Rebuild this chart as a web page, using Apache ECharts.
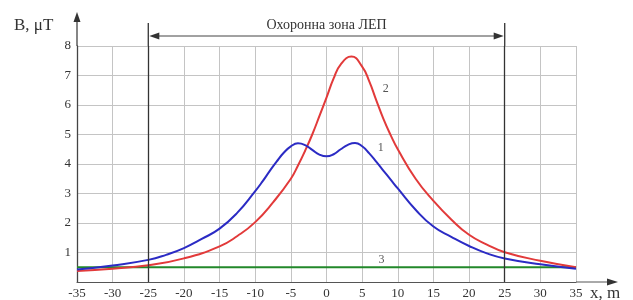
<!DOCTYPE html>
<html>
<head>
<meta charset="utf-8">
<script src="https://cdn.jsdelivr.net/npm/echarts@6/dist/echarts.min.js"></script>
<style>
  html, body { margin: 0; padding: 0; background: #fff; }
  #chart { width: 633px; height: 300px; }
</style>
</head>
<body>
<div id="chart"></div>
<script>
// curve 1 (blue)
const curve1X = [-35, -30, -25, -22.5, -20, -17.5, -15, -12.5, -10, -9, -8, -7, -6, -5, -4, -3, -2, -1, 0, 1, 2, 3, 4, 5, 6, 7, 8, 9, 10, 12.5, 15, 17.5, 20, 22.5, 25, 30, 35];
const curve1Y = [0.42, 0.56, 0.75, 0.92, 1.15, 1.46, 1.81, 2.35, 3.08, 3.4, 3.75, 4.08, 4.38, 4.6, 4.7, 4.64, 4.48, 4.32, 4.26, 4.33, 4.5, 4.65, 4.71, 4.6, 4.36, 4.07, 3.77, 3.47, 3.17, 2.45, 1.88, 1.53, 1.22, 0.97, 0.8, 0.6, 0.45];
// curve 2 (red)
const curve2X = [-35, -30, -25, -20, -15, -12.5, -10, -7.5, -5, -4, -3, -2, -1, 0, 1, 2, 3.5, 5, 6, 7, 8, 9, 10, 12.5, 15, 17.5, 20, 22.5, 25, 30, 35];
const curve2Y = [0.37, 0.45, 0.57, 0.8, 1.21, 1.56, 2.03, 2.7, 3.5, 3.95, 4.45, 5.0, 5.62, 6.25, 6.9, 7.38, 7.64, 7.3, 6.8, 6.15, 5.52, 4.98, 4.5, 3.5, 2.75, 2.12, 1.6, 1.27, 1.01, 0.72, 0.5];
// curve 3 (green)
const curve3X = [-35, 35];
const curve3Y = [0.5, 0.5];

const zoneEdges = [-25, 25];
const zoneTitle = 'Охоронна зона ЛЕП';
const curveNames = ['1', '2', '3'];
const curveLabelPos = [[7.6, 4.55], [8.3, 6.55], [7.7, 0.75]];

const serif = 'Liberation Serif';
const chart = echarts.init(document.getElementById('chart'));

function pairs(xs, ys) {
  return xs.map((x, i) => [x, ys[i]]);
}

chart.setOption({
  animation: false,
  backgroundColor: '#fff',
  grid: { left: 77, right: 57, top: 46, bottom: 16 },
  xAxis: {
    type: 'value', min: -35, max: 35, interval: 5,
    axisLine: { show: true, onZero: false, lineStyle: { color: '#555', width: 1 } },
    axisTick: { show: false },
    axisLabel: { color: '#333', fontFamily: serif, fontSize: 13, margin: 5 },
    splitLine: { show: true, lineStyle: { color: '#c4c4c4', width: 1 } }
  },
  yAxis: {
    type: 'value', min: 0, max: 8, interval: 1,
    axisLine: { show: true, onZero: false, lineStyle: { color: '#444', width: 1.3 } },
    axisTick: { show: false },
    axisLabel: {
      color: '#333', fontFamily: serif, fontSize: 13, margin: 6,
      formatter: v => (v === 0 ? '' : String(v))
    },
    splitLine: { show: true, lineStyle: { color: '#c4c4c4', width: 1 } }
  },
  series: [{
    type: 'line', data: pairs(curve1X, curve1Y), smooth: 0.5, symbol: 'none',
    lineStyle: { color: '#2b2bc4', width: 2 }, z: 4
  }, {
    type: 'line', data: pairs(curve2X, curve2Y), smooth: 0.5, symbol: 'none',
    lineStyle: { color: '#e23a3a', width: 2 }, z: 3
  }, {
    type: 'line', data: pairs(curve3X, curve3Y), symbol: 'none',
    lineStyle: { color: '#22882a', width: 2 }, z: 2,
    markLine: {
      silent: true, symbol: 'none', label: { show: false },
      lineStyle: { color: '#333', width: 1.3, type: 'solid' },
      data: zoneEdges.map(x => ({ xAxis: x }))
    }
  }]
});

// decorations placed from axis coordinates
const p = (x, y) => chart.convertToPixel({ gridIndex: 0 }, [x, y]);
const dark = '#333';
const g = [];
const topLeft = p(-35, 8), rightEnd = p(35, 0);

// y axis arrow
g.push({ type: 'line', shape: { x1: topLeft[0], y1: topLeft[1], x2: topLeft[0], y2: 16 }, style: { stroke: '#444', lineWidth: 1.3 } });
g.push({ type: 'polygon', shape: { points: [[topLeft[0], 12], [topLeft[0] - 3.5, 22], [topLeft[0] + 3.5, 22]] }, style: { fill: dark } });
// x axis arrow
g.push({ type: 'line', shape: { x1: rightEnd[0], y1: rightEnd[1], x2: 612, y2: rightEnd[1] }, style: { stroke: '#555', lineWidth: 1 } });
g.push({ type: 'polygon', shape: { points: [[618, rightEnd[1]], [607, rightEnd[1] - 3.5], [607, rightEnd[1] + 3.5]] }, style: { fill: dark } });

// zone edges above the plot
const zl = p(zoneEdges[0], 8), zr = p(zoneEdges[1], 8);
[zl, zr].forEach(pt => {
  g.push({ type: 'line', shape: { x1: pt[0], y1: pt[1], x2: pt[0], y2: 23 }, style: { stroke: dark, lineWidth: 1.3 } });
});
const ay = 36;
g.push({ type: 'line', shape: { x1: zl[0] + 8, y1: ay, x2: zr[0] - 8, y2: ay }, style: { stroke: '#444', lineWidth: 1 } });
g.push({ type: 'polygon', shape: { points: [[zl[0] + 1, ay], [zl[0] + 11, ay - 3.5], [zl[0] + 11, ay + 3.5]] }, style: { fill: dark } });
g.push({ type: 'polygon', shape: { points: [[zr[0] - 1, ay], [zr[0] - 11, ay - 3.5], [zr[0] - 11, ay + 3.5]] }, style: { fill: dark } });
g.push({
  type: 'text', x: (zl[0] + zr[0]) / 2, y: 25,
  style: { text: zoneTitle, fill: '#333', font: '14px "' + serif + '"', textAlign: 'center', textVerticalAlign: 'middle' }
});

// axis names
g.push({ type: 'text', x: 14, y: 26, style: { text: 'B, μT', fill: '#333', font: '17px "' + serif + '"', textAlign: 'left', textVerticalAlign: 'middle' } });
g.push({ type: 'text', x: 590, y: 294, style: { text: 'x, m', fill: '#333', font: '17px "' + serif + '"', textAlign: 'left', textVerticalAlign: 'middle' } });

// curve numbers
curveNames.forEach((n, i) => {
  const pt = p(curveLabelPos[i][0], curveLabelPos[i][1]);
  g.push({ type: 'text', x: pt[0], y: pt[1], style: { text: n, fill: '#555', font: '12px "' + serif + '"', textAlign: 'center', textVerticalAlign: 'middle' } });
});

chart.setOption({ graphic: g });
</script>
</body>
</html>
